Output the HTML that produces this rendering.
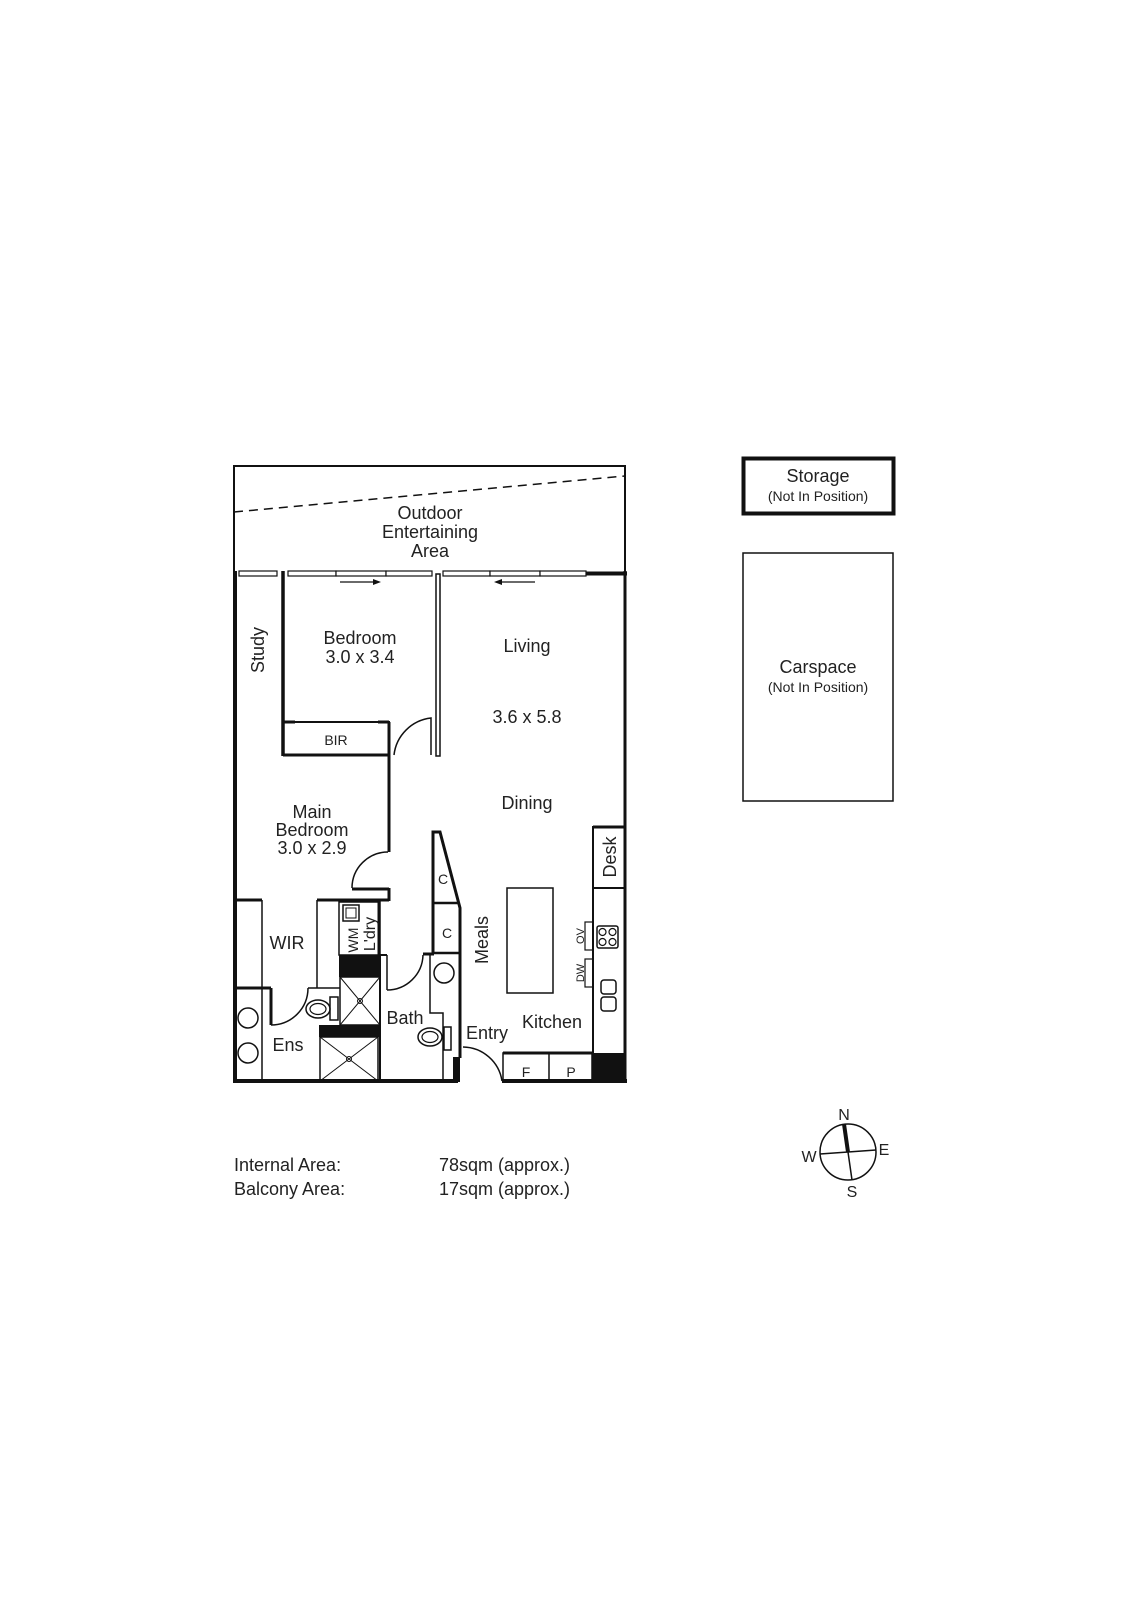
<!DOCTYPE html>
<html><head><meta charset="utf-8"><style>
html,body{margin:0;padding:0;background:#fff;}
svg{display:block;}
text{font-family:"Liberation Sans",sans-serif;fill:#222;}
</style></head><body>
<svg width="1131" height="1600" viewBox="0 0 1131 1600" xmlns="http://www.w3.org/2000/svg">
<g fill="none" stroke="#111">
<polyline points="234,573 234,466 625,466 625,573" stroke-width="2"/>
<line x1="234" y1="512" x2="625" y2="476" stroke-width="1.5" stroke-dasharray="9,6"/>
<g stroke-width="1.2" fill="#fff">
<rect x="239" y="571" width="38" height="5"/>
<rect x="288" y="571" width="48" height="5"/><rect x="336" y="571" width="50" height="5"/><rect x="386" y="571" width="46" height="5"/>
<rect x="443" y="571" width="47" height="5"/><rect x="490" y="571" width="50" height="5"/><rect x="540" y="571" width="46" height="5"/>
</g>
<line x1="586" y1="573.5" x2="627" y2="573.5" stroke-width="4"/>
<line x1="235" y1="571" x2="235" y2="1083" stroke-width="4"/>
<line x1="625" y1="571" x2="625" y2="1083" stroke-width="3"/>
<line x1="233" y1="1081" x2="458" y2="1081" stroke-width="4"/>
<line x1="502" y1="1081" x2="627" y2="1081" stroke-width="4"/>
<line x1="283" y1="571" x2="283" y2="756" stroke-width="3.5"/>
<rect x="436" y="574" width="4" height="182" stroke-width="1.5"/>
<rect x="283" y="722" width="106" height="33" stroke-width="2"/>
<line x1="283" y1="755" x2="389" y2="755" stroke-width="3"/>
<line x1="283" y1="722" x2="295" y2="722" stroke-width="3"/><line x1="378" y1="722" x2="389" y2="722" stroke-width="3"/>
<path d="M394,755 A42,42 0 0 1 431,718 L431,755" stroke-width="1.5"/>
<line x1="389" y1="722" x2="389" y2="852" stroke-width="3"/>
<path d="M388,852 A36,36 0 0 0 352,888" stroke-width="1.5"/>
<line x1="352" y1="889" x2="389" y2="889" stroke-width="3"/>
<line x1="389" y1="888" x2="389" y2="901" stroke-width="3"/>
<line x1="235" y1="900" x2="262" y2="900" stroke-width="3"/>
<line x1="317" y1="900" x2="389" y2="900" stroke-width="3"/>
<line x1="262" y1="900" x2="262" y2="988" stroke-width="1.5"/>
<line x1="317" y1="900" x2="317" y2="988" stroke-width="1.5"/>
<line x1="235" y1="988" x2="271" y2="988" stroke-width="3"/>
<line x1="271" y1="988" x2="271" y2="1025" stroke-width="3"/>
<line x1="308" y1="988" x2="340" y2="988" stroke-width="1.5"/>
<path d="M271,1025 A37,37 0 0 0 308,988" stroke-width="1.5"/>
<line x1="262" y1="988" x2="262" y2="1081" stroke-width="1.5"/>
<circle cx="248" cy="1018" r="10" stroke-width="1.5"/>
<circle cx="248" cy="1053" r="10" stroke-width="1.5"/>
<ellipse cx="318" cy="1009" rx="12" ry="9" stroke-width="1.5"/>
<ellipse cx="318" cy="1009" rx="8" ry="5.5" stroke-width="1.2"/>
<rect x="330" y="997" width="8" height="23" stroke-width="1.5"/>
<rect x="339" y="902" width="41" height="53" stroke-width="1.5"/>
<rect x="343" y="905" width="16" height="16" stroke-width="1.5"/>
<rect x="346" y="908" width="10" height="10" stroke-width="1"/>
<line x1="379" y1="902" x2="379" y2="955" stroke-width="3"/>
<rect x="339" y="955" width="41" height="22" fill="#111" stroke="none"/>
<rect x="340" y="977" width="40" height="48" stroke-width="1.5"/>
<path d="M340,977 L380,1025 M380,977 L340,1025" stroke-width="1"/>
<circle cx="360" cy="1001" r="2.5" stroke-width="1"/>
<rect x="319" y="1025" width="61" height="12" fill="#111" stroke="none"/>
<rect x="320" y="1037" width="58" height="44" stroke-width="1.5"/>
<path d="M320,1037 L378,1081 M378,1037 L320,1081" stroke-width="1"/>
<circle cx="349" cy="1059" r="2.5" stroke-width="1"/>
<line x1="380" y1="955" x2="387" y2="955" stroke-width="2"/>
<line x1="380" y1="955" x2="380" y2="1081" stroke-width="2"/>
<path d="M387,990 A36,36 0 0 0 423,955" stroke-width="1.5"/>
<line x1="387" y1="955" x2="387" y2="990" stroke-width="1.5"/>
<line x1="423" y1="954" x2="434" y2="954" stroke-width="3"/>
<path d="M433,953 L433,832 L440,832 L460,908 L460,1058" stroke-width="3"/>
<line x1="433" y1="903" x2="459" y2="903" stroke-width="2.5"/>
<line x1="433" y1="953" x2="460" y2="953" stroke-width="2.5"/>
<path d="M430,955 L430,1013 L443,1013 L443,1081" stroke-width="1.5"/>
<circle cx="444" cy="973" r="10" stroke-width="1.5"/>
<ellipse cx="430" cy="1037" rx="12" ry="9" stroke-width="1.5"/>
<ellipse cx="430" cy="1037" rx="8" ry="5.5" stroke-width="1.2"/>
<rect x="444" y="1027" width="7" height="23" stroke-width="1.5"/>
<rect x="453" y="1057" width="7" height="25" fill="#111" stroke="none"/>
<path d="M463,1047 A40,40 0 0 1 502,1081" stroke-width="1.5"/>
<rect x="507" y="888" width="46" height="105" stroke-width="1.5"/>
<rect x="593" y="827" width="32" height="61" stroke-width="2"/>
<line x1="593" y1="827" x2="625" y2="827" stroke-width="3"/>
<line x1="593" y1="888" x2="593" y2="1081" stroke-width="2"/>
<rect x="585" y="922" width="8" height="28" stroke-width="1.2"/>
<rect x="597" y="926" width="21" height="22" rx="2" stroke-width="1.5"/>
<circle cx="602.5" cy="932" r="3.5" stroke-width="1.2"/><circle cx="612.5" cy="932" r="3.5" stroke-width="1.2"/>
<circle cx="602.5" cy="942" r="3.5" stroke-width="1.2"/><circle cx="612.5" cy="942" r="3.5" stroke-width="1.2"/>
<rect x="585" y="959" width="8" height="28" stroke-width="1.2"/>
<rect x="601" y="980" width="15" height="14" rx="3" stroke-width="1.5"/>
<rect x="601" y="997" width="15" height="14" rx="3" stroke-width="1.5"/>
<rect x="503" y="1053" width="89" height="28" stroke-width="1.5"/>
<line x1="503" y1="1053" x2="592" y2="1053" stroke-width="3"/>
<line x1="549" y1="1053" x2="549" y2="1081" stroke-width="1.5"/>
<rect x="592" y="1053" width="33" height="29" fill="#111" stroke="none"/>
<rect x="743.5" y="458.5" width="150" height="55" stroke-width="4"/>
<rect x="743" y="553" width="150" height="248" stroke-width="1.5"/>
<circle cx="848" cy="1152" r="28" stroke-width="1.5"/>
<line x1="844" y1="1124" x2="848" y2="1152" stroke-width="4"/>
<line x1="848" y1="1152" x2="852" y2="1180" stroke-width="1.5"/>
<line x1="820" y1="1154" x2="876" y2="1150" stroke-width="1.5"/>
</g>
<g stroke="#111" stroke-width="1.3" fill="#111">
<line x1="340" y1="582" x2="378" y2="582"/><path d="M381,582 L373,579 L373,585 Z" stroke="none"/>
<line x1="535" y1="582" x2="497" y2="582"/><path d="M494,582 L502,579 L502,585 Z" stroke="none"/>
</g>
<g font-size="18" text-anchor="middle">
<text x="430" y="519">Outdoor</text>
<text x="430" y="538">Entertaining</text>
<text x="430" y="557">Area</text>
<text x="360" y="644">Bedroom</text>
<text x="360" y="663">3.0 x 3.4</text>
<text x="527" y="652">Living</text>
<text x="527" y="723">3.6 x 5.8</text>
<text x="527" y="809">Dining</text>
<text x="312" y="818">Main</text>
<text x="312" y="836">Bedroom</text>
<text x="312" y="854">3.0 x 2.9</text>
<text x="287" y="949">WIR</text>
<text x="288" y="1051">Ens</text>
<text x="405" y="1024">Bath</text>
<text x="487" y="1039">Entry</text>
<text x="552" y="1028">Kitchen</text>
<text transform="translate(264,650) rotate(-90)">Study</text>
<text transform="translate(488,940) rotate(-90)">Meals</text>
<text transform="translate(616,857) rotate(-90)">Desk</text>
<text x="818" y="482">Storage</text>
<text x="818" y="673">Carspace</text>
</g>
<g font-size="14" text-anchor="middle">
<text x="818" y="501">(Not In Position)</text>
<text x="818" y="692">(Not In Position)</text>
<text x="336" y="745">BIR</text>
<text x="443" y="884">C</text>
<text x="447" y="938">C</text>
<text x="526" y="1077">F</text>
<text x="571" y="1077">P</text>
<text transform="translate(358,940) rotate(-90)">WM</text>
<text transform="translate(375,934) rotate(-90)" font-size="16">L'dry</text>
<text transform="translate(584,936) rotate(-90)" font-size="11">OV</text>
<text transform="translate(584,973) rotate(-90)" font-size="11">DW</text>
<text x="844" y="1120" font-size="16">N</text>
<text x="809" y="1162" font-size="16">W</text>
<text x="884" y="1155" font-size="16">E</text>
<text x="852" y="1197" font-size="16">S</text>
</g>
<g font-size="18">
<text x="234" y="1171">Internal Area:</text>
<text x="439" y="1171">78sqm (approx.)</text>
<text x="234" y="1195">Balcony Area:</text>
<text x="439" y="1195">17sqm (approx.)</text>
</g>
</svg>
</body></html>
